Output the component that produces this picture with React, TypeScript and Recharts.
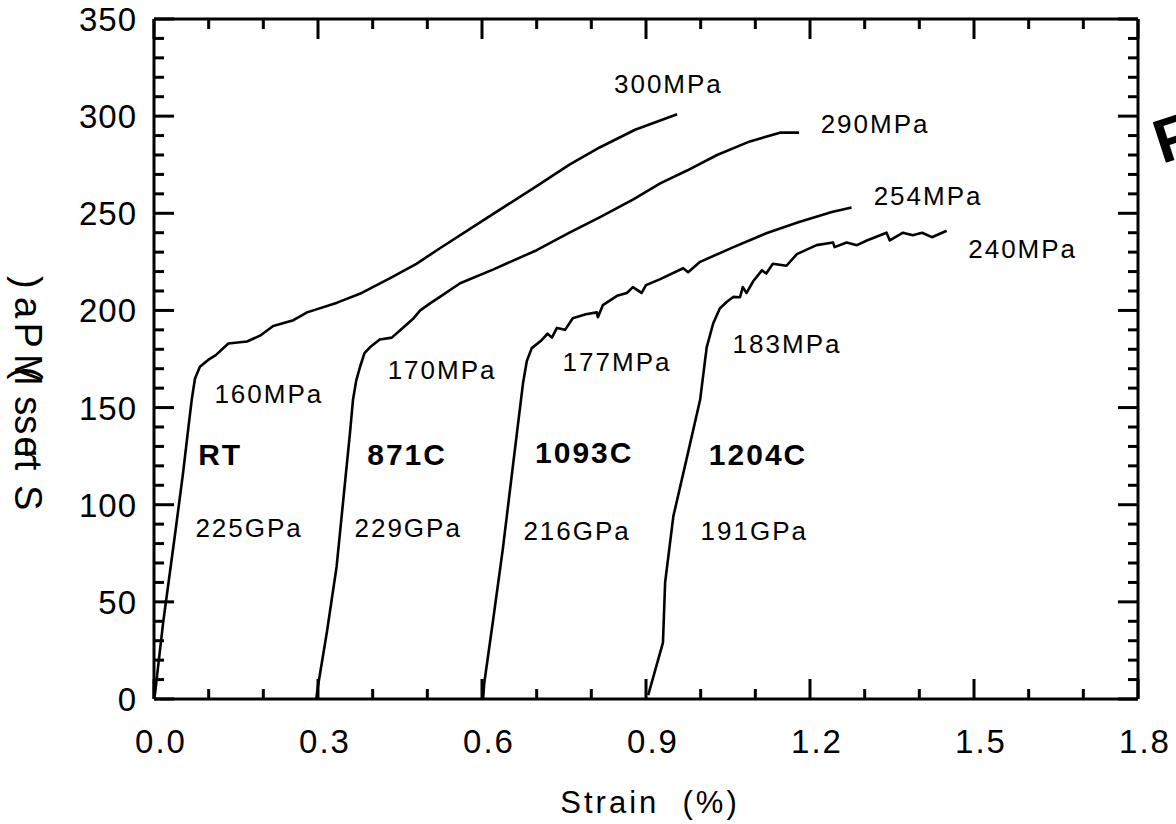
import { LineChart, Line, XAxis, YAxis, ReferenceDot } from "recharts";

// strain (%) / stress (MPa) pairs
const rtCurve = [
  [0, 0], [0.002, 3], [0.008, 18], [0.017, 40], [0.029, 65], [0.04, 88], [0.053, 116],
  [0.063, 140], [0.069, 154], [0.075, 165], [0.084, 171], [0.099, 174.5], [0.113, 177],
  [0.136, 183], [0.17, 184], [0.194, 187], [0.218, 192], [0.255, 195], [0.28, 199],
  [0.335, 204], [0.38, 209], [0.432, 216.6], [0.48, 224], [0.523, 232], [0.6, 246],
  [0.7, 264], [0.76, 275], [0.816, 284], [0.88, 293], [0.957, 301],
];
const c871Curve = [
  [0.297, 0], [0.299, 5], [0.316, 34], [0.334, 68], [0.3585, 137], [0.364, 154], [0.37, 164],
  [0.377, 171], [0.385, 178], [0.395, 181], [0.413, 185], [0.435, 186], [0.455, 191],
  [0.475, 196], [0.487, 200], [0.505, 203.6], [0.523, 207], [0.56, 214], [0.62, 221],
  [0.7, 231], [0.76, 240], [0.816, 248], [0.876, 257], [0.926, 265.4], [0.975, 272],
  [1.03, 280], [1.09, 287], [1.145, 291.5], [1.18, 291.5],
];
const c1093Curve = [
  [0.602, 0], [0.604, 8], [0.62, 40], [0.638, 77], [0.66, 128], [0.675, 162.5], [0.682, 174],
  [0.691, 180.6], [0.709, 184.7], [0.72, 188], [0.728, 186], [0.737, 191], [0.752, 190],
  [0.766, 196], [0.79, 198], [0.81, 199], [0.812, 196.5], [0.821, 202.7], [0.847, 207.5],
  [0.865, 209], [0.876, 212], [0.892, 209], [0.9, 213], [0.925, 216], [0.968, 221.7],
  [0.977, 219.7], [0.999, 225], [1.06, 232.6], [1.12, 239.7], [1.18, 245.5], [1.24, 250.7],
  [1.276, 253],
];
const c1204Curve = [
  [0.904, 2], [0.931, 29], [0.935, 60], [0.95, 94], [0.975, 124.5], [0.999, 154], [1.011, 181],
  [1.023, 193.4], [1.035, 201], [1.048, 204.5], [1.06, 207], [1.072, 206.8], [1.077, 212],
  [1.084, 209], [1.096, 215], [1.112, 220.6], [1.12, 219], [1.132, 224], [1.157, 223],
  [1.176, 229], [1.212, 233.6], [1.242, 235], [1.245, 232.6], [1.267, 235], [1.286, 233.6],
  [1.304, 236], [1.34, 240], [1.346, 236], [1.37, 240], [1.388, 238.7], [1.405, 240],
  [1.423, 237.7], [1.45, 241],
];

const xTicks = [0, 0.1, 0.2, 0.3, 0.4, 0.5, 0.6, 0.7, 0.8, 0.9, 1.0, 1.1, 1.2, 1.3, 1.4, 1.5, 1.6, 1.7, 1.8];
const yTicks = [
  0, 10, 20, 30, 40, 50, 60, 70, 80, 90, 100, 110, 120, 130, 140, 150, 160, 170, 180,
  190, 200, 210, 220, 230, 240, 250, 260, 270, 280, 290, 300, 310, 320, 330, 340, 350,
];

// annotation text and where it sits (strain, stress)
const notes = [
  { text: "300MPa", x: 0.941, y: 312 },
  { text: "290MPa", x: 1.319, y: 291.4 },
  { text: "254MPa", x: 1.416, y: 254.2 },
  { text: "240MPa", x: 1.589, y: 226.9 },
  { text: "160MPa", x: 0.21, y: 152.3 },
  { text: "170MPa", x: 0.527, y: 164.6 },
  { text: "177MPa", x: 0.847, y: 168.7 },
  { text: "183MPa", x: 1.158, y: 178 },
  { text: "225GPa", x: 0.174, y: 83.3 },
  { text: "229GPa", x: 0.465, y: 83.3 },
  { text: "216GPa", x: 0.774, y: 81.7 },
  { text: "191GPa", x: 1.098, y: 81.7 },
];
const tempLabels = [
  { text: "RT", x: 0.121, y: 120.3 },
  { text: "871C", x: 0.463, y: 120.3 },
  { text: "1093C", x: 0.787, y: 121.4 },
  { text: "1204C", x: 1.105, y: 120.3 },
];

const FONT = "'Liberation Sans', Arial, sans-serif";
const W = 1176;
const H = 824;

const toRows = (pts: number[][]) => pts.map(([strain, stress]) => ({ strain, stress }));
const curves = [rtCurve, c871Curve, c1093Curve, c1204Curve].map(toRows);

const BottomTick = (p: any) => {
  const major = p.index % 3 === 0;
  return (
    <g>
      <line x1={p.x} x2={p.x} y1={p.y} y2={p.y - (major ? 20 : 10)} stroke="#000" strokeWidth={3} />
      {major && (
        <text x={p.x + 7} y={p.y + 54} textAnchor="middle" fontSize={33} letterSpacing={2} fontFamily={FONT} fill="#000">
          {Number(p.payload.value).toFixed(1)}
        </text>
      )}
    </g>
  );
};

const TopTick = (p: any) => {
  const major = p.index % 3 === 0;
  return <line x1={p.x} x2={p.x} y1={p.y} y2={p.y + (major ? 20 : 10)} stroke="#000" strokeWidth={3} />;
};

const LeftTick = (p: any) => {
  const major = p.index % 5 === 0;
  return (
    <g>
      <line x1={p.x} x2={p.x + (major ? 20 : 10)} y1={p.y} y2={p.y} stroke="#000" strokeWidth={3} />
      {major && (
        <text x={p.x - 17} y={p.y + 12} textAnchor="end" fontSize={33} letterSpacing={1} fontFamily={FONT} fill="#000">
          {p.payload.value}
        </text>
      )}
    </g>
  );
};

const RightTick = (p: any) => {
  const major = p.index % 5 === 0;
  return <line x1={p.x} x2={p.x - (major ? 20 : 10)} y1={p.y} y2={p.y} stroke="#000" strokeWidth={3} />;
};

const noteShape = (text: string, bold: boolean) => (p: any) => (
  <text
    x={p.cx}
    y={p.cy}
    textAnchor="middle"
    fontSize={bold ? 30 : 26}
    fontWeight={bold ? 700 : 400}
    letterSpacing={2}
    fontFamily={FONT}
    fill="#000"
  >
    {text}
  </text>
);

export default function App() {
  return (
    <div style={{ position: "absolute", left: 0, top: 0, width: W, height: H, background: "#fff" }}>
      <LineChart width={W} height={H} margin={{ top: 18, right: 37, left: 94, bottom: 65 }}>
        <XAxis
          dataKey="strain"
          type="number"
          domain={[0, 1.8]}
          ticks={xTicks}
          interval={0}
          allowDataOverflow
          height={60}
          tickSize={0}
          tickMargin={0}
          tickLine={false}
          axisLine={{ stroke: "#000", strokeWidth: 3 }}
          tick={<BottomTick />}
        />
        <XAxis
          xAxisId="top"
          dataKey="strain"
          orientation="top"
          type="number"
          domain={[0, 1.8]}
          ticks={xTicks}
          interval={0}
          allowDataOverflow
          height={1}
          tickSize={0}
          tickMargin={0}
          tickLine={false}
          axisLine={{ stroke: "#000", strokeWidth: 3 }}
          tick={<TopTick />}
        />
        <YAxis
          type="number"
          domain={[0, 350]}
          ticks={yTicks}
          interval={0}
          allowDataOverflow
          width={60}
          tickSize={0}
          tickMargin={0}
          tickLine={false}
          axisLine={{ stroke: "#000", strokeWidth: 3 }}
          tick={<LeftTick />}
        />
        <YAxis
          yAxisId="right"
          orientation="right"
          type="number"
          domain={[0, 350]}
          ticks={yTicks}
          interval={0}
          allowDataOverflow
          width={1}
          tickSize={0}
          tickMargin={0}
          tickLine={false}
          axisLine={{ stroke: "#000", strokeWidth: 3 }}
          tick={<RightTick />}
        />
        {curves.map((rows, i) => (
          <Line
            key={i}
            data={rows}
            dataKey="stress"
            type="linear"
            stroke="#000"
            strokeWidth={2.6}
            strokeLinejoin="round"
            dot={false}
            activeDot={false}
            isAnimationActive={false}
          />
        ))}
        {/* invisible copy so the mirrored top/right frame axes get a domain */}
        <Line
          data={curves[0]}
          dataKey="stress"
          xAxisId="top"
          yAxisId="right"
          stroke="transparent"
          dot={false}
          activeDot={false}
          isAnimationActive={false}
        />
        {notes.map((n) => (
          <ReferenceDot key={n.text} x={n.x} y={n.y} r={0} shape={noteShape(n.text, false)} />
        ))}
        {tempLabels.map((n) => (
          <ReferenceDot key={n.text} x={n.x} y={n.y} r={0} shape={noteShape(n.text, true)} />
        ))}
      </LineChart>
      <svg width={W} height={H} style={{ position: "absolute", left: 0, top: 0, pointerEvents: "none" }}>
        <text x={650} y={813} textAnchor="middle" fontSize={31} letterSpacing={3} fontFamily={FONT} style={{ whiteSpace: "pre" }}>
          {"Strain  (%)"}
        </text>
        <text
          x={15}
          y={485}
          transform="rotate(-90, 15, 485)"
          rotate="180"
          fontSize={38}
          fontFamily={FONT}
          style={{ whiteSpace: "pre" }}
        >
          Stress (MPa)
        </text>
        <text x={1162} y={164} transform="rotate(-18, 1162, 164)" fontSize={62} fontWeight={700} fontFamily={FONT}>
          F
        </text>
      </svg>
    </div>
  );
}
